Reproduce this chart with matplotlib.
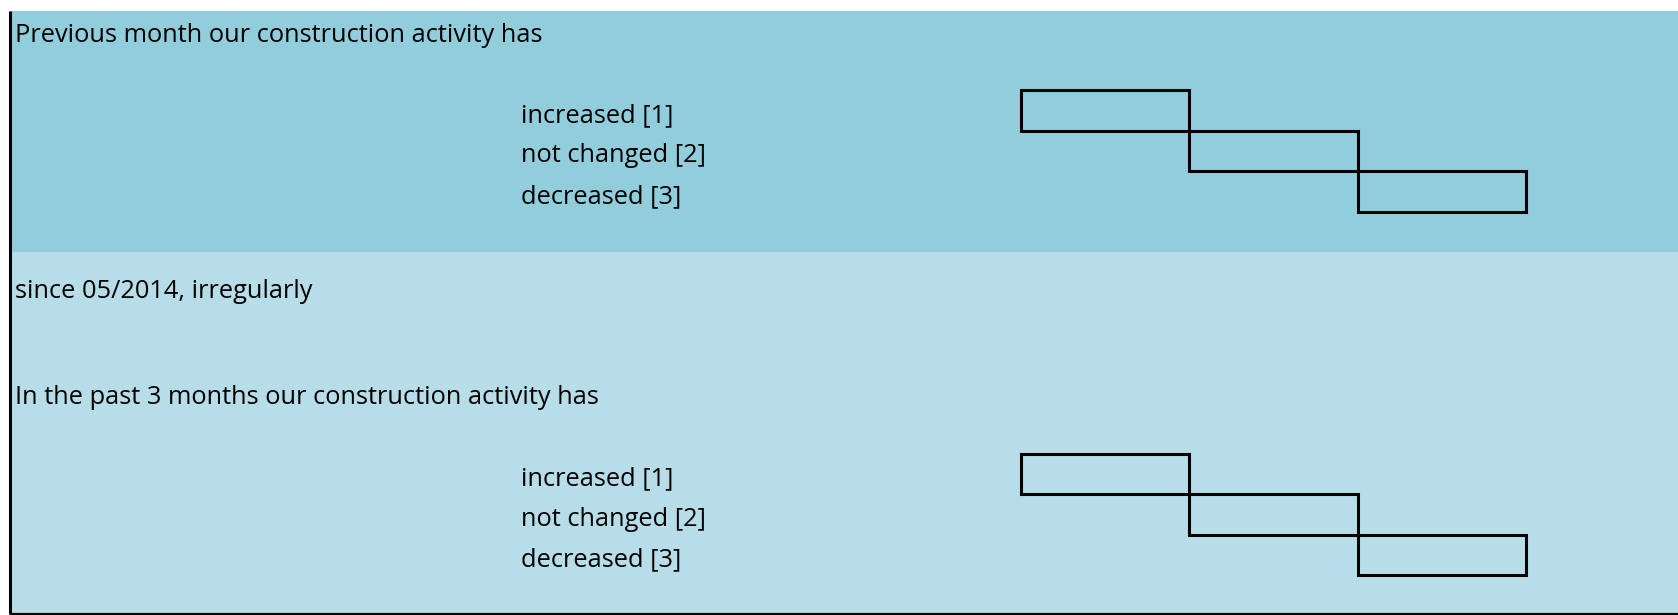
import matplotlib.pyplot as plt
from matplotlib.patches import Rectangle

# survey text
questions = ["Previous month our construction activity has",
             "In the past 3 months our construction activity has"]
note = "since 05/2014, irregularly"
options = ["increased [1]", "not changed [2]", "decreased [3]"]
codes = [1, 2, 3]

W, H = 1678, 615
fig = plt.figure(figsize=(W / 100, H / 100), dpi=100)
ax = fig.add_axes([0, 0, 1, 1])
ax.set_xlim(0, W)
ax.set_ylim(H, 0)
ax.axis("off")

font = dict(family="Open Sans", size=18.3, color="black", va="center")

# background bands
ax.add_patch(Rectangle((10, 11), W - 10, 241, color="#92CDDC", lw=0))
ax.add_patch(Rectangle((10, 252), W - 10, 362, color="#B7DEE8", lw=0))
# borders
ax.plot([9.5, 9.5], [11, 614], color="black", lw=2.2, solid_capstyle="butt")
ax.plot([9.5, W], [613.5, 613.5], color="black", lw=1.6, solid_capstyle="butt")

ax.text(15, 35, questions[0], **font)
ax.text(15, 292, note, **font)
ax.text(15, 398, questions[1], **font)

box_x0, box_w = 1021, 168.3
for y_top, row_h in [(90, 40.6), (454, 40.3)]:
    for code, label in zip(codes, options):
        y = y_top + (code - 1) * row_h
        ax.text(521, y + row_h / 2 + 5, label, **font)
        ax.add_patch(Rectangle((box_x0 + (code - 1) * box_w, y), box_w, row_h,
                               fill=False, ec="black", lw=2.2))

fig.savefig("out.png", dpi=100)
